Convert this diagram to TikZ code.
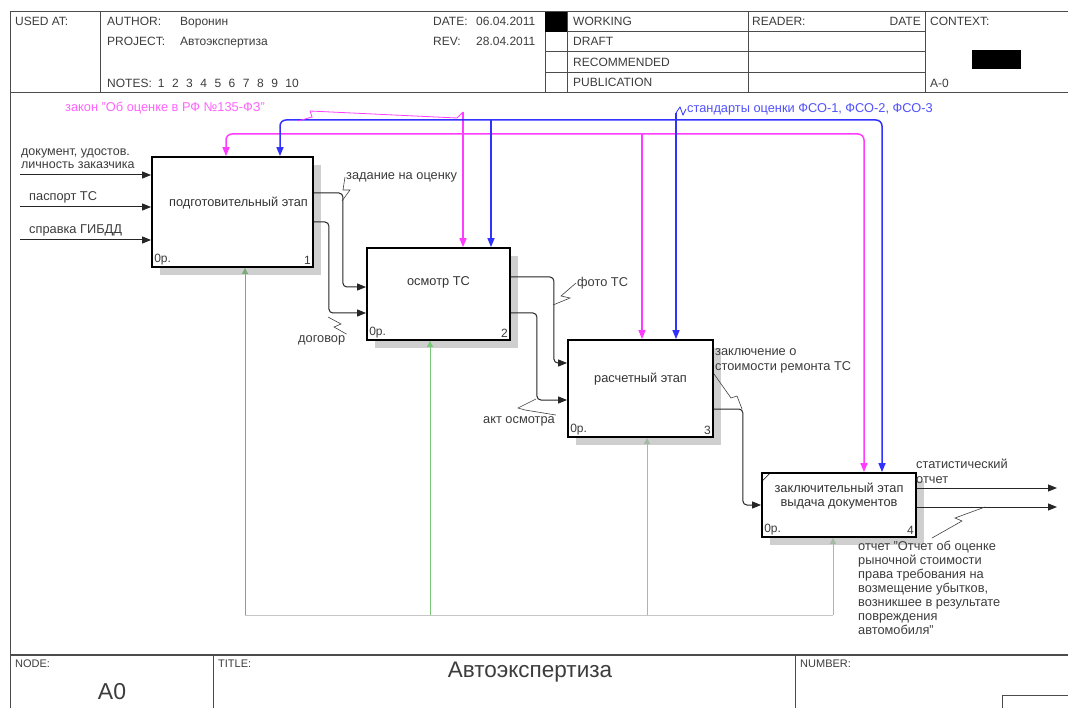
\documentclass[tikz,border=0pt]{standalone}
\usepackage{fontspec}
\setmainfont{Liberation Sans}
\usetikzlibrary{arrows.meta,positioning,calc,shadows,patterns}
\definecolor{ctrlpink}{RGB}{255,60,255}
\definecolor{ctrlblue}{RGB}{50,50,255}
\definecolor{mechgreen}{RGB}{120,200,120}
\definecolor{inkgray}{RGB}{60,60,60}

\begin{document}
\begin{tikzpicture}[x=1pt,y=-1pt,
  every node/.style={font=\fontsize{12.8}{14}\selectfont, text=inkgray},
  hdr/.style={anchor=base west, inner sep=0pt, font=\fontsize{12}{13}\selectfont},
  frame/.style={draw=black!70, line width=1pt},
  box/.style={draw=black, line width=1.8pt, fill=white, align=center, text=black!80,
    drop shadow={shadow xshift=8pt, shadow yshift=-8pt, opacity=1, fill=gray!38}},
  corner/.style={anchor=south west, inner sep=3pt, font=\fontsize{12}{13}\selectfont},
  num/.style={anchor=south east, inner sep=3pt, font=\fontsize{12}{13}\selectfont},
  flow/.style={draw=black!85, line width=1pt, rounded corners=4pt, -{Triangle[length=9pt,width=7pt]}},
  pinkflow/.style={draw=ctrlpink, line width=1.5pt, rounded corners=6pt, -{Triangle[length=9pt,width=7pt]}},
  blueflow/.style={draw=ctrlblue, line width=1.5pt, rounded corners=6pt, -{Triangle[length=9pt,width=7pt]}},
  mechflow/.style={draw=mechgreen, line width=0.8pt, -{Triangle[length=6pt,width=6pt]}},
  squig/.style={draw=black!75, line width=0.6pt},
  lbl/.style={anchor=west, inner sep=1pt, align=left}]

\fill[white] (0,0) rectangle (1068,708);
\useasboundingbox (0,0) rectangle (1068,708);

% header frame
\draw[frame] (10,12) -- (1068,12) (10,93) -- (1068,93);
\draw[frame] (10,12) -- (10,708) (100,12) -- (100,93) (545,12) -- (545,93) (567,12) -- (567,93) (748,12) -- (748,93) (925,12) -- (925,93);
\draw[frame] (545,32) -- (925,32) (545,52) -- (925,52) (545,73) -- (925,73);
\fill[black] (545,12) rectangle (567,32);
\fill[black] (972,50) rectangle (1021,69);
\node[hdr] (usedat) at (15,26) {USED AT:};
\node[hdr] (author) at (107,26) {AUTHOR:};
\node[hdr] (authornm) at (180,26) {Воронин};
\node[hdr] (project) at (107,46) {PROJECT:};
\node[hdr] (projectnm) at (180,46) {Автоэкспертиза};
\node[hdr] (notes) at (107,88) {NOTES:\hspace{6pt}1\hspace{7.5pt}2\hspace{7.5pt}3\hspace{7.5pt}4\hspace{7.5pt}5\hspace{7.5pt}6\hspace{7.5pt}7\hspace{7.5pt}8\hspace{7.5pt}9\hspace{7.5pt}10};
\node[hdr] (date) at (433,26) {DATE:};
\node[hdr] (datenm) at (476,26) {06.04.2011};
\node[hdr] (rev) at (433,46) {REV:};
\node[hdr] (revnm) at (476,46) {28.04.2011};
\node[hdr] (working) at (573,26) {WORKING};
\node[hdr] (draft) at (573,46) {DRAFT};
\node[hdr] (recom) at (573,67) {RECOMMENDED};
\node[hdr] (publ) at (573,87) {PUBLICATION};
\node[hdr] (reader) at (752,26) {READER:};
\node[hdr, anchor=base east] (rdate) at (921,26) {DATE};
\node[hdr] (context) at (930,26) {CONTEXT:};
\node[hdr] (aminus) at (930,88) {A-0};

% footer
\draw[frame, line width=1.6pt] (10,655) -- (1068,655);
\draw[frame] (213,655) -- (213,708) (795,655) -- (795,708);
\draw[frame] (1002,708) -- (1002,695) -- (1068,695);
\node[hdr, font=\fontsize{11}{12}\selectfont] (nodehd) at (15,667) {NODE:};
\node[hdr, font=\fontsize{11}{12}\selectfont] (titlehd) at (218,667) {TITLE:};
\node[hdr, font=\fontsize{11}{12}\selectfont] (numberhd) at (800,667) {NUMBER:};
\node[font=\fontsize{23}{25}\selectfont] (nodenm) at (112,692) {A0};
\node[font=\fontsize{22.5}{25}\selectfont] (titlenm) at (530,672) {Автоэкспертиза};

% activity boxes
\node[box, minimum width=161pt, minimum height=110pt, label={[corner]south west:0р.}, label={[num]south east:1}] (b1) at (232.5,212) {\hspace{12pt}подготовительный этап\\[6pt]};
\node[box, minimum width=143pt, minimum height=92pt, label={[corner]south west:0р.}, label={[num]south east:2}] (b2) at (438.5,294) {осмотр ТС\\[12pt]};
\node[box, minimum width=145pt, minimum height=97pt, label={[corner]south west:0р.}, label={[num]south east:3}] (b3) at (640.5,388.5) {расчетный этап\\[8pt]};
\node[box, minimum width=154pt, minimum height=64pt, inner sep=0pt, label={[corner]south west:0р.}, label={[num]south east:4}] (b4) at (839,505) {заключительный этап\\выдача документов\\[6pt]};
\draw[line width=0.6pt] ($(b4.north west)+(1,9)$) -- ($(b4.north west)+(9,1)$);

% inputs
\coordinate (i1) at (20,175);
\coordinate (i2) at (20,207);
\coordinate (i3) at (20,240);
\draw[flow] (i1) -- (i1 -| b1.west);
\draw[flow] (i2) -- (i2 -| b1.west);
\draw[flow] (i3) -- (i3 -| b1.west);
\node[lbl, anchor=south west, font=\fontsize{12.5}{13}\selectfont] (li1) at (20,170) {документ, удостов.\\личность заказчика};
\node[lbl, anchor=south west] (li2) at (28,204) {паспорт ТС};
\node[lbl, anchor=south west] (li3) at (28,237) {справка ГИБДД};

% controls
\coordinate (pk) at (463,112);
\coordinate (ph) at (463,134);
\coordinate (pk3) at (642,134);
\draw[pinkflow] (pk) -- (pk |- b2.north);
\draw[pinkflow] (ph) -| (b1.north -| 226,0);
\draw[pinkflow] (ph) -| (b4.north -| 864,0);
\draw[pinkflow] (pk3) -- (pk3 |- b3.north);
\coordinate (bs) at (676,113);
\coordinate (bh) at (676,120);
\coordinate (bh2) at (491,120);
\draw[blueflow] (bs) -- (bs |- b3.north);
\draw[blueflow] (bh) -| (b1.north -| 280,0);
\draw[blueflow] (bh) -| (b4.north -| 882,0);
\draw[blueflow] (bh2) -- (bh2 |- b2.north);
\node[lbl, text=ctrlpink!80] (lpk) at (64,108) {закон "Об оценке в РФ №135-ФЗ"};
\node[lbl, text=ctrlblue!85] (lbs) at (686,109) {стандарты оценки ФСО-1, ФСО-2, ФСО-3};
\coordinate (psq) at (310,111);
\draw[draw=ctrlpink, line width=0.8pt] (298,121) -- (312,117) -- (psq) -- ($(pk)+(-6,6)$) -- (pk);
\draw[draw=ctrlblue, line width=0.8pt] (bs) -- ++(4,-6) -- ++(3,8) -- (lbs.west);

% flows between boxes
\draw[flow] ($(b1.east)+(0,-19)$) -- ++(29,0) |- ($(b2.west)+(0,-7)$);
\draw[flow] ($(b1.east)+(0,10)$) -- ++(15,0) |- ($(b2.west)+(0,19)$);
\draw[flow] ($(b2.east)+(0,-17)$) -- ++(43,0) |- ($(b3.west)+(0,-25.5)$);
\draw[flow] ($(b2.east)+(0,19)$) -- ++(26,0) |- ($(b3.west)+(0,11.5)$);
\draw[flow] ($(b3.east)+(0,20.5)$) -- ++(29,0) |- (b4.west);
\coordinate (e1) at (1057,488);
\coordinate (e2) at (1057,507);
\draw[flow] ($(b4.east)+(0,-17)$) -- (e1);
\draw[flow] ($(b4.east)+(0,2)$) -- (e2);

% arrow labels
\node[lbl] (lo1) at (345,177) {задание на оценку};
\draw[squig] (342,201) -- (350,190) -- (343,190) -- (lo1.west);
\node[lbl] (lo2) at (297,340) {договор};
\draw[squig] (328,317) -- (341,324) -- (334,327) -- (lo2.north east);
\node[lbl] (lo3) at (576,283) {фото ТС};
\draw[squig] (553,305) -- (570,298) -- (561,296) -- (lo3.west);
\node[lbl] (lo4) at (482,421) {акт осмотра};
\draw[squig] (536,399) -- (518,408) -- (525,410) -- (lo4.north east);
\node[lbl, anchor=north west, font=\fontsize{12.8}{15}\selectfont] (lo5) at (714,347) {заключение о\\стоимости ремонта ТС};
\draw[squig] (lo5.south west) -- (731,398) -- (737,396) -- (742,409);
\node[lbl, anchor=south west, font=\fontsize{12.8}{15}\selectfont] (lo6) at (915,485) {статистический\\отчет};
\node[lbl, anchor=north west, font=\fontsize{12.8}{14}\selectfont] (lo7) at (857,540) {отчет "Отчет об оценке\\рыночной стоимости\\права требования на\\возмещение убытков,\\возникшее в результате\\повреждения\\автомобиля"};
\coordinate (rsq) at (932,538);
\draw[squig] (985,507) -- (955,518) -- (962,521) -- (rsq);

% mechanisms
\coordinate (m1) at (245,615);
\coordinate (m2) at (430,615);
\coordinate (m3) at (647,615);
\coordinate (m4) at (833,615);
\draw[draw=gray!45, line width=0.8pt] (m1) -- (m4);
\draw[mechflow, draw=mechgreen!60!gray] (m1) -- (m1 |- b1.south);
\draw[mechflow] (m2) -- (m2 |- b2.south);
\draw[mechflow, draw=mechgreen!40!gray!70] (m3) -- (m3 |- b3.south);
\draw[mechflow, draw=mechgreen!40!gray!70] (m4) -- (m4 |- b4.south);
\end{tikzpicture}
\end{document}
